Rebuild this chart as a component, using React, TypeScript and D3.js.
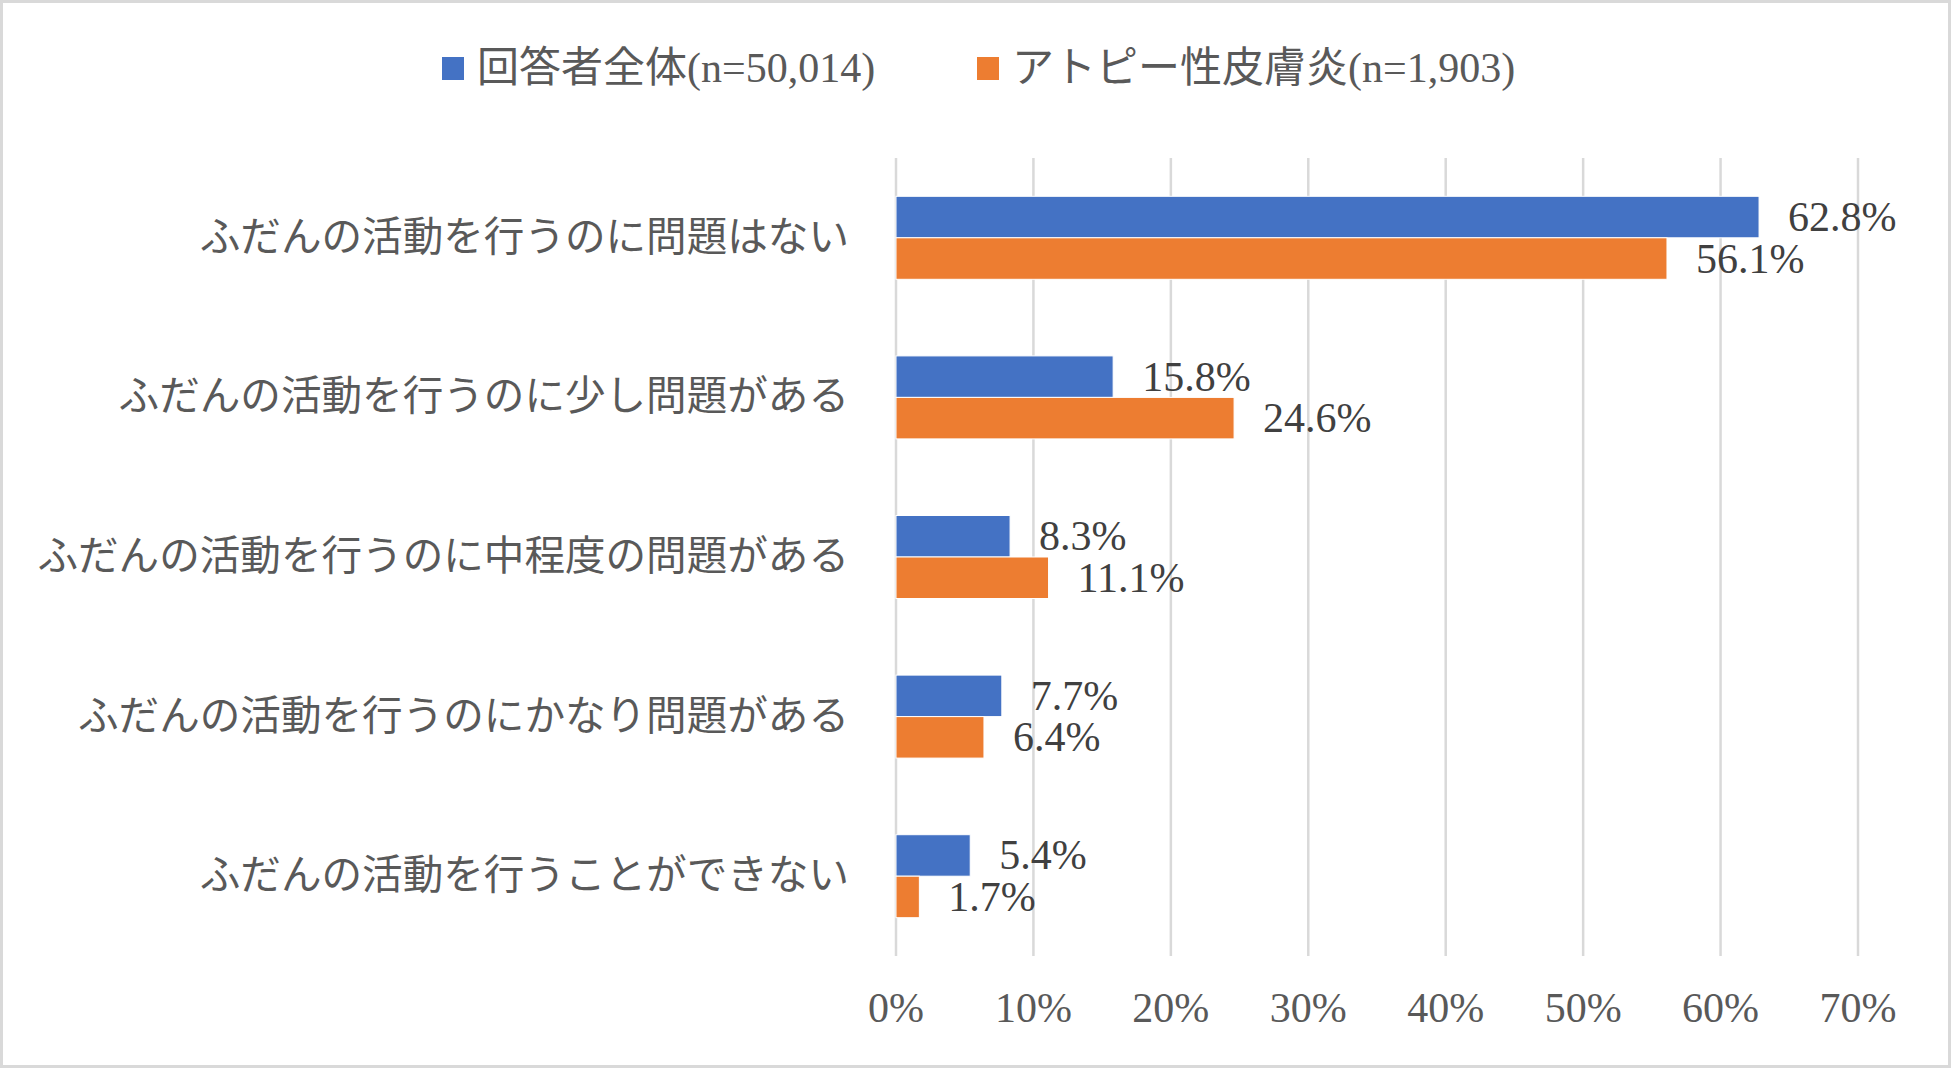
import React from "react";
import * as d3 from "d3";

const categories = [
  "ふだんの活動を行うのに問題はない",
  "ふだんの活動を行うのに少し問題がある",
  "ふだんの活動を行うのに中程度の問題がある",
  "ふだんの活動を行うのにかなり問題がある",
  "ふだんの活動を行うことができない",
];
const seriesNames = ["回答者全体(n=50,014)", "アトピー性皮膚炎(n=1,903)"];
const allRespondents = [62.8, 15.8, 8.3, 7.7, 5.4];
const atopic = [56.1, 24.6, 11.1, 6.4, 1.7];
const xTicks = [0, 10, 20, 30, 40, 50, 60, 70];

const W = 1951;
const H = 1068;
const COLORS = ["#4472C4", "#ED7D31"];
const FONT = "'Liberation Serif', 'Noto Serif CJK JP', 'Noto Sans CJK JP', serif";
const JP_FONT = "'Liberation Serif', 'Noto Sans CJK JP', serif";

export default function App() {
  const x = d3.scaleLinear().domain([0, 70]).range([896, 1858]);
  const y = d3
    .scaleBand<string>()
    .domain(categories)
    .range([158, 956])
    .paddingInner(0.48)
    .paddingOuter(0.24);
  const sub = d3.scaleBand<number>().domain([0, 1]).range([0, y.bandwidth()]);
  const series = [allRespondents, atopic];

  const legendX = [442, 977];

  return (
    <div style={{ position: "absolute", left: 0, top: 0 }}>
      <svg width={W} height={H} style={{ display: "block" }}>
        <rect x={0} y={0} width={W} height={H} fill="#ffffff" />
        <rect
          x={1.5}
          y={1.5}
          width={W - 3}
          height={H - 3}
          fill="none"
          stroke="#d9d9d9"
          strokeWidth={3}
        />
        {/* gridlines */}
        {xTicks.map((t) => (
          <line
            key={"g" + t}
            x1={x(t)}
            x2={x(t)}
            y1={158}
            y2={956}
            stroke="#d9d9d9"
            strokeWidth={2.5}
          />
        ))}
        {/* bars */}
        {series.map((vals, si) =>
          vals.map((v, i) => (
            <rect
              key={`b${si}-${i}`}
              x={x(0)}
              y={(y(categories[i]) as number) + (sub(si) as number)}
              width={x(v) - x(0)}
              height={sub.bandwidth()}
              fill={COLORS[si]}
              stroke="#ffffff"
              strokeWidth={1}
            />
          ))
        )}
        {/* data labels */}
        {series.map((vals, si) =>
          vals.map((v, i) => (
            <text
              key={`l${si}-${i}`}
              x={x(v) + 29}
              y={(y(categories[i]) as number) + (sub(si) as number) + sub.bandwidth() / 2 + 14}
              fontFamily={FONT}
              fontSize={42}
              fill="#404040"
            >
              {v.toFixed(1) + "%"}
            </text>
          ))
        )}
        {/* category labels */}
        {categories.map((c) => (
          <text
            key={"c" + c}
            x={849}
            y={(y(c) as number) + y.bandwidth() / 2 + 13}
            textAnchor="end"
            fontFamily={JP_FONT}
            fontSize={40.6}
            fill="#595959"
          >
            {c}
          </text>
        ))}
        {/* x tick labels */}
        {xTicks.map((t) => (
          <text
            key={"t" + t}
            x={x(t)}
            y={1022}
            textAnchor="middle"
            fontFamily={FONT}
            fontSize={42}
            fill="#595959"
          >
            {t + "%"}
          </text>
        ))}
        {/* legend */}
        {seriesNames.map((n, si) => (
          <g key={"lg" + si}>
            <rect x={legendX[si]} y={57} width={22} height={23} fill={COLORS[si]} />
            <text
              x={legendX[si] + 35}
              y={82}
              fontFamily={JP_FONT}
              fontSize={42}
              fill="#595959"
            >
              {n}
            </text>
          </g>
        ))}
      </svg>
    </div>
  );
}
